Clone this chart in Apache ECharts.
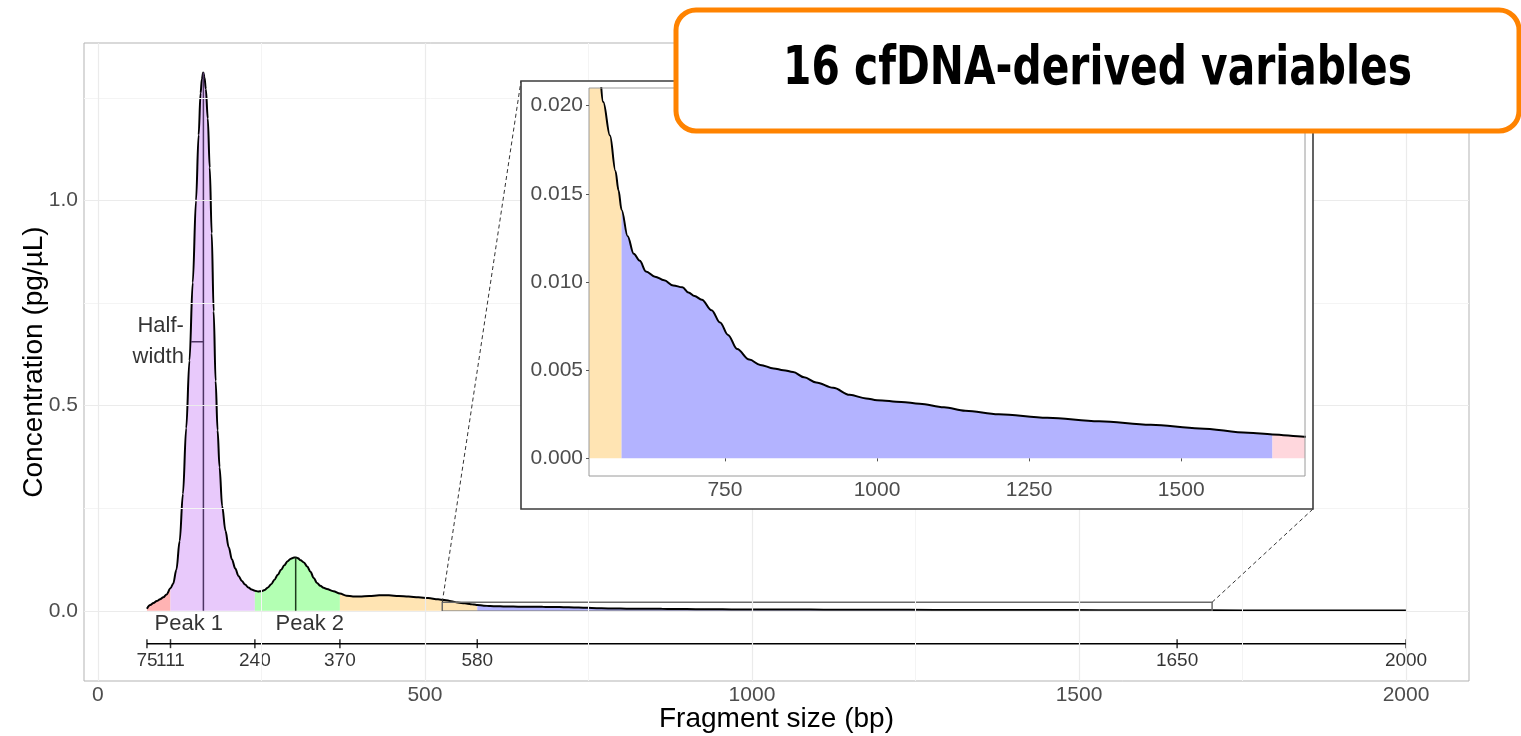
<!DOCTYPE html>
<html><head><meta charset="utf-8">
<script src="https://cdn.jsdelivr.net/npm/echarts@6/dist/echarts.min.js"></script>
<style>html,body{margin:0;padding:0;background:#fff}#chart{width:1521px;height:736px}</style>
</head><body><div id="chart"></div>
<script>
// ---------------- data ----------------
const sizes = [75,80,85,90,95,100,105,111,115,120,125,130,135,140,145,150,154,157,159,161,163,165,168,171,174,177,180,183,186,190,195,200,205,210,215,220,225,230,235,240,245,250,255,260,265,270,275,280,285,290,295,300,303,306,310,315,320,325,330,335,340,345,350,360,370,380,390,400,415,430,445,460,475,490,505,520,530,540,550,561,570,575,580,590,600,610,620,635,650,665,680,690,700,712,728,742,755,770,790,808,830,846,862,880,900,928,955,982,1000,1040,1070,1110,1145,1200,1280,1365,1450,1530,1610,1650,1702,1800,1900,2000];
const conc = [0.005,0.014,0.019,0.024,0.028,0.033,0.040,0.055,0.066,0.100,0.170,0.285,0.445,0.610,0.800,1.000,1.160,1.262,1.296,1.312,1.300,1.272,1.200,1.080,0.920,0.730,0.560,0.440,0.350,0.255,0.195,0.155,0.125,0.103,0.085,0.073,0.064,0.057,0.052,0.049,0.047,0.048,0.051,0.057,0.065,0.076,0.088,0.100,0.111,0.121,0.127,0.130,0.130,0.128,0.123,0.118,0.108,0.095,0.080,0.068,0.061,0.056,0.053,0.048,0.042,0.037,0.035,0.035,0.036,0.038,0.038,0.036,0.035,0.033,0.031,0.028,0.0265,0.0235,0.0202,0.0183,0.0163,0.0152,0.0141,0.0126,0.0116,0.0112,0.0106,0.0103,0.0101,0.0098,0.0097,0.0094,0.0092,0.0090,0.0084,0.0077,0.0070,0.0062,0.0056,0.0053,0.0051,0.0050,0.0049,0.0046,0.0043,0.0040,0.0036,0.0034,0.0033,0.0032,0.0031,0.0029,0.0027,0.0025,0.0023,0.0021,0.0019,0.0017,0.00145,0.00136,0.00123,0.0010,0.0008,0.0006];
const regionBounds = [75,111,240,370,580,1650,2000];
const peakSizes = [161.3, 302.4];
const peakConc = [1.312, 0.130];
const peakLabels = ['Peak 1', 'Peak 2'];
const peakLabelSizes = [139, 324];
const peakLabelConc = -0.032;
const halfWidthSizes = [142.4, 161.3];
const halfWidthConc = 0.656;
const halfWidthLabel = 'Half-\nwidth';
const halfWidthLabelSize = 131.5;
const boundaryAxisConc = -0.08;
const mainXTicks = [0,500,1000,1500,2000];
const mainXMinor = [250,750,1250,1750];
const mainYTicks = [0,0.5,1.0];
const mainYMinor = [0.25,0.75,1.25];
const mainXRange = [-21.25, 2096.25];
const mainYRange = [-0.171, 1.384];
const insetXTicks = [750,1000,1250,1500];
const insetXMinor = [625,875,1125,1375,1625];
const insetYTicks = [0,0.005,0.010,0.015,0.020];
const insetYMinor = [0.0025,0.0075,0.0125,0.0175];
const insetXRange = [526.5, 1703.5];
const insetYRange = [-0.001, 0.021];
const titleText = '16 cfDNA-derived variables';
const xTitle = 'Fragment size (bp)';
const yTitle = 'Concentration (pg/µL)';

// ---------------- styles ----------------
const regionColors = ['#ffb3b3','#e8c9fb','#b3ffb3','#ffe4b3','#b3b3ff','#ffd7dd'];
const FONT = '"Liberation Sans", Arial, Helvetica, sans-serif';

function segment(lo, hi) {
  const out = [];
  for (let i = 0; i < sizes.length; i++) if (sizes[i] >= lo && sizes[i] <= hi) out.push([sizes[i], conc[i]]);
  return out;
}
const curve = sizes.map((s, i) => [s, conc[i]]);

function gridLines(xi, majorX, minorX, majorY, minorY, z) {
  const d = [];
  minorX.forEach(v => d.push({xAxis: v, lineStyle: {color: '#f4f4f4', width: 1, type: 'solid'}}));
  minorY.forEach(v => d.push({yAxis: v, lineStyle: {color: '#f4f4f4', width: 1, type: 'solid'}}));
  majorX.forEach(v => d.push({xAxis: v, lineStyle: {color: '#ebebeb', width: 1.2, type: 'solid'}}));
  majorY.forEach(v => d.push({yAxis: v, lineStyle: {color: '#ebebeb', width: 1.2, type: 'solid'}}));
  return {type: 'line', xAxisIndex: xi, yAxisIndex: xi, data: [], z: z, silent: true,
    markLine: {silent: true, symbol: ['none','none'], label: {show: false}, animation: false, data: d}};
}

const series = [];
series.push(gridLines(0, mainXTicks, mainXMinor, mainYTicks, mainYMinor, 1));
for (let k = 0; k < regionBounds.length - 1; k++) {
  series.push({type: 'line', xAxisIndex: 0, yAxisIndex: 0, data: segment(regionBounds[k], regionBounds[k+1]),
    smooth: 0.35, smoothMonotone: 'x', symbol: 'none', lineStyle: {width: 0}, z: 2, silent: true,
    areaStyle: {color: regionColors[k], opacity: 1}});
}
series.push({type: 'line', xAxisIndex: 0, yAxisIndex: 0, data: curve, smooth: 0.35, smoothMonotone: 'x',
  symbol: 'none', lineStyle: {color: '#000', width: 2}, z: 3, silent: true});
series.push({type: 'line', xAxisIndex: 0, yAxisIndex: 0, data: [[peakSizes[0], 0], [peakSizes[0], peakConc[0]]],
  symbol: 'none', lineStyle: {color: '#4d3463', width: 1.5}, z: 3, silent: true});
series.push({type: 'line', xAxisIndex: 0, yAxisIndex: 0, data: [[peakSizes[1], 0], [peakSizes[1], peakConc[1]]],
  symbol: 'none', lineStyle: {color: '#1d3b1d', width: 1.5}, z: 3, silent: true});
series.push({type: 'line', xAxisIndex: 0, yAxisIndex: 0, data: [[halfWidthSizes[0], halfWidthConc], [halfWidthSizes[1], halfWidthConc]],
  symbol: 'none', lineStyle: {color: '#4d3463', width: 1.5}, z: 3, silent: true});
series.push({type: 'line', xAxisIndex: 0, yAxisIndex: 0,
  data: [[insetXRange[0], insetYRange[0]], [insetXRange[1], insetYRange[0]], [insetXRange[1], insetYRange[1]], [insetXRange[0], insetYRange[1]], [insetXRange[0], insetYRange[0]]],
  symbol: 'none', lineStyle: {color: '#6a6a6a', width: 1.5}, z: 4, silent: true});
series.push({type: 'line', xAxisIndex: 0, yAxisIndex: 0, data: [[regionBounds[0], boundaryAxisConc], [regionBounds[regionBounds.length-1], boundaryAxisConc]],
  symbol: 'none', lineStyle: {color: '#000', width: 1.5}, z: 3, silent: true});
series.push({type: 'scatter', xAxisIndex: 0, yAxisIndex: 0, data: regionBounds.map(b => [b, boundaryAxisConc]),
  symbol: 'rect', symbolSize: [1.5, 9], itemStyle: {color: '#000'}, z: 3, silent: true,
  label: {show: true, position: 'bottom', distance: 3, formatter: p => String(p.data[0]), fontSize: 19, color: '#000', fontFamily: FONT}});
series.push({type: 'scatter', xAxisIndex: 0, yAxisIndex: 0, data: peakLabelSizes.map((s, i) => [s, peakLabelConc, peakLabels[i]]),
  symbolSize: 0, z: 3, silent: true,
  label: {show: true, position: 'inside', formatter: p => p.data[2], fontSize: 22, color: '#000', fontFamily: FONT}});
series.push({type: 'scatter', xAxisIndex: 0, yAxisIndex: 0, data: [[halfWidthLabelSize, halfWidthConc]],
  symbolSize: 0, z: 3, silent: true,
  label: {show: true, position: 'left', distance: 0, formatter: halfWidthLabel, align: 'right', lineHeight: 31, fontSize: 22, color: '#000', fontFamily: FONT}});

// inset
series.push(gridLines(1, insetXTicks, insetXMinor, insetYTicks, insetYMinor, 11));
for (let k = 0; k < regionBounds.length - 1; k++) {
  series.push({type: 'line', xAxisIndex: 1, yAxisIndex: 1, data: segment(regionBounds[k], regionBounds[k+1]),
    smooth: 0.35, smoothMonotone: 'x', symbol: 'none', lineStyle: {width: 0}, z: 12, silent: true, clip: true,
    areaStyle: {color: regionColors[k], opacity: 1}});
}
series.push({type: 'line', xAxisIndex: 1, yAxisIndex: 1, data: curve, smooth: 0.35, smoothMonotone: 'x', clip: true,
  symbol: 'none', lineStyle: {color: '#000', width: 2}, z: 13, silent: true});

const tickLabel = {fontSize: 21, color: '#4d4d4d', fontFamily: FONT};
const option = {
  animation: false,
  backgroundColor: '#fff',
  grid: [
    {left: 84, top: 43, width: 1385, height: 638, show: true, borderColor: '#b3b3b3', borderWidth: 1, z: 0, containLabel: false, outerBoundsMode: 'none'},
    {left: 589, top: 88, width: 716, height: 388, show: true, borderColor: '#9a9a9a', borderWidth: 1, z: 14, containLabel: false, outerBoundsMode: 'none'}
  ],
  xAxis: [
    {type: 'value', gridIndex: 0, min: mainXRange[0], max: mainXRange[1], axisLine: {show: false}, splitLine: {show: false},
      axisTick: {show: true, customValues: mainXTicks, length: 4, lineStyle: {color: '#555'}},
      axisLabel: Object.assign({customValues: mainXTicks, margin: 4, formatter: v => String(v)}, tickLabel),
      name: xTitle, nameLocation: 'middle', nameGap: 24, nameMoveOverlap: false,
      nameTextStyle: {fontSize: 28, color: '#000', fontFamily: FONT}},
    {type: 'value', gridIndex: 1, min: insetXRange[0], max: insetXRange[1], axisLine: {show: false}, splitLine: {show: false}, z: 15,
      axisTick: {show: true, customValues: insetXTicks, length: 3, lineStyle: {color: '#555'}},
      axisLabel: Object.assign({customValues: insetXTicks, margin: 4, formatter: v => String(v)}, tickLabel)}
  ],
  yAxis: [
    {type: 'value', gridIndex: 0, min: mainYRange[0], max: mainYRange[1], axisLine: {show: false}, splitLine: {show: false},
      axisTick: {show: true, customValues: mainYTicks, length: 4, lineStyle: {color: '#555'}},
      axisLabel: Object.assign({customValues: mainYTicks, margin: 6, formatter: v => v.toFixed(1)}, tickLabel),
      name: yTitle, nameLocation: 'middle', nameGap: 36, nameMoveOverlap: false,
      nameTextStyle: {fontSize: 28, color: '#000', fontFamily: FONT}},
    {type: 'value', gridIndex: 1, min: insetYRange[0], max: insetYRange[1], axisLine: {show: false}, splitLine: {show: false}, z: 15,
      axisTick: {show: true, customValues: insetYTicks, length: 3, lineStyle: {color: '#555'}},
      axisLabel: Object.assign({customValues: insetYTicks, margin: 6, formatter: v => v.toFixed(3)}, tickLabel)}
  ],
  series: series
};

const chart = echarts.init(document.getElementById('chart'), null, {renderer: 'canvas'});
chart.setOption(option);

const pTL = chart.convertToPixel({gridIndex: 0}, [insetXRange[0], insetYRange[1]]);
const pTR = chart.convertToPixel({gridIndex: 0}, [insetXRange[1], insetYRange[1]]);
const box = {x: 521, y: 81, w: 792, h: 428};
const titleFont = 'bold 53px "Liberation Sans Narrow", "DejaVu Sans", Roboto, sans-serif';
const ctx = document.createElement('canvas').getContext('2d');
ctx.font = titleFont;
const sx = 629 / ctx.measureText(titleText).width;

chart.setOption({graphic: [
  {type: 'line', z: 9, silent: true, shape: {x1: pTL[0], y1: pTL[1], x2: box.x, y2: box.y},
    style: {stroke: '#333', lineWidth: 1, lineDash: [4, 3]}},
  {type: 'line', z: 9, silent: true, shape: {x1: pTR[0], y1: pTR[1], x2: box.x + box.w, y2: box.y + box.h},
    style: {stroke: '#333', lineWidth: 1, lineDash: [4, 3]}},
  {type: 'rect', z: 10, silent: true, shape: {x: box.x, y: box.y, width: box.w, height: box.h},
    style: {fill: '#fff', stroke: '#3c3c3c', lineWidth: 1.6}},
  {type: 'rect', z: 50, silent: true, shape: {x: 676, y: 10, width: 843, height: 121, r: 20},
    style: {fill: '#fff', stroke: '#ff8300', lineWidth: 5}},
  {type: 'text', z: 51, silent: true, x: 1097.5, y: 70, scaleX: sx,
    style: {text: titleText, font: titleFont, fill: '#000', align: 'center', verticalAlign: 'middle', x: 0, y: 0}}
]});
</script></body></html>
